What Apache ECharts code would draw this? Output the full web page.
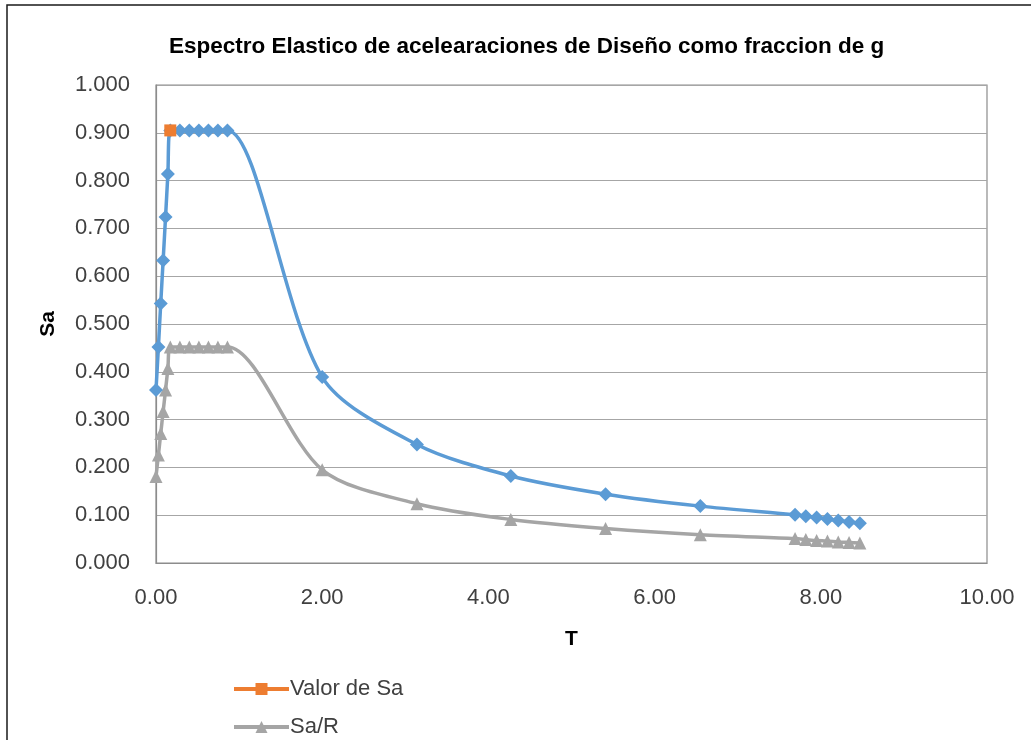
<!DOCTYPE html>
<html>
<head>
<meta charset="utf-8">
<style>
  html, body { margin: 0; padding: 0; background: #ffffff; }
  #chart { width: 1031px; height: 740px; }
</style>
<script src="https://cdn.jsdelivr.net/npm/echarts@6/dist/echarts.min.js"></script>
</head>
<body>
<div id="chart"></div>
<script>
// Periods T (s) of the design spectrum
const periods = [0, 0.029, 0.057, 0.086, 0.115, 0.143, 0.172, 0.287, 0.401, 0.516, 0.631, 0.745, 0.860,
                 2.00, 3.14, 4.27, 5.41, 6.55, 7.69, 7.82, 7.95, 8.08, 8.21, 8.34, 8.47];
// Elastic spectral acceleration Sa (fraction of g)
const saValues = [0.362, 0.452, 0.543, 0.633, 0.724, 0.814, 0.905, 0.905, 0.905, 0.905, 0.905, 0.905, 0.905,
                  0.389, 0.248, 0.182, 0.144, 0.119, 0.101, 0.098, 0.095, 0.092, 0.089, 0.086, 0.083];
// Reduced spectrum Sa/R
const saRValues = [0.181, 0.226, 0.271, 0.317, 0.362, 0.407, 0.452, 0.452, 0.452, 0.452, 0.452, 0.452, 0.452,
                   0.195, 0.124, 0.091, 0.072, 0.059, 0.051, 0.049, 0.047, 0.046, 0.044, 0.043, 0.042];
// Highlighted design value of Sa
const designPoint = [0.172, 0.905];

const titleText = 'Espectro Elastico de acelearaciones de Diseño como fraccion de g';
const legendNames = ['Valor de Sa', 'Sa/R'];

const pairs = (xs, ys) => xs.map((x, i) => [x, ys[i]]);
const font = '"Liberation Sans", Arial, sans-serif';

// one legend box per entry, stacked vertically below the plot
const legendBox = (name, top) => ({
  data: [name],
  left: 232,
  top: top,
  padding: 0,
  itemWidth: 55,
  itemHeight: 15,
  lineStyle: { width: 4 },
  textStyle: { fontFamily: font, fontSize: 22, color: '#404040', padding: [0, 0, 0, -4] }
});

const chart = echarts.init(document.getElementById('chart'), null, { renderer: 'canvas' });
chart.setOption({
  backgroundColor: '#ffffff',
  animation: false,
  graphic: [{
    type: 'rect',
    shape: { x: 7, y: 5, width: 1100, height: 800 },
    style: { fill: 'none', stroke: '#1a1a1a', lineWidth: 1.5 },
    silent: true
  }],
  title: {
    text: titleText,
    left: 164,
    top: 30,
    textStyle: { fontFamily: font, fontSize: 22.5, fontWeight: 'bold', color: '#000000' }
  },
  legend: [legendBox(legendNames[0], 678), legendBox(legendNames[1], 716)],
  grid: {
    left: 156, top: 85, right: 44, bottom: 177,
    show: true, borderColor: '#8c8c8c', borderWidth: 1.2,
    containLabel: false
  },
  xAxis: {
    type: 'value',
    min: 0, max: 10, interval: 2,
    name: 'T',
    nameLocation: 'middle',
    nameGap: 66,
    nameTextStyle: { fontFamily: font, fontSize: 21, fontWeight: 'bold', color: '#000000' },
    axisLine: { show: true, lineStyle: { color: '#8c8c8c', width: 1.2 } },
    axisTick: { show: false },
    splitLine: { show: false },
    axisLabel: {
      margin: 24,
      fontFamily: font, fontSize: 22, color: '#404040',
      formatter: v => v.toFixed(2)
    }
  },
  yAxis: {
    type: 'value',
    min: 0, max: 1, interval: 0.1,
    name: 'Sa',
    nameLocation: 'middle',
    nameGap: 97,
    nameRotate: 90,
    nameTextStyle: { fontFamily: font, fontSize: 21, fontWeight: 'bold', color: '#000000' },
    axisLine: { show: true, lineStyle: { color: '#8c8c8c', width: 1.2 } },
    axisTick: { show: false },
    splitLine: { show: true, lineStyle: { color: '#a6a6a6', width: 1.2 } },
    axisLabel: {
      margin: 26,
      fontFamily: font, fontSize: 22, color: '#404040',
      formatter: v => v.toFixed(3)
    }
  },
  series: [
    {
      name: 'Sa',
      type: 'line',
      data: pairs(periods, saValues),
      smooth: 0.3,
      symbol: 'diamond',
      symbolSize: 14,
      lineStyle: { color: '#5b9bd5', width: 3.5 },
      itemStyle: { color: '#5b9bd5' },
      z: 3
    },
    {
      name: 'Sa/R',
      type: 'line',
      data: pairs(periods, saRValues),
      smooth: 0.3,
      symbol: 'triangle',
      symbolSize: 13,
      lineStyle: { color: '#a5a5a5', width: 3.5 },
      itemStyle: { color: '#a5a5a5' },
      z: 2
    },
    {
      name: 'Valor de Sa',
      type: 'line',
      data: [designPoint],
      symbol: 'rect',
      symbolSize: 12,
      lineStyle: { color: '#ed7d31', width: 3.5 },
      itemStyle: { color: '#ed7d31' },
      z: 4
    }
  ]
});
</script>
</body>
</html>
